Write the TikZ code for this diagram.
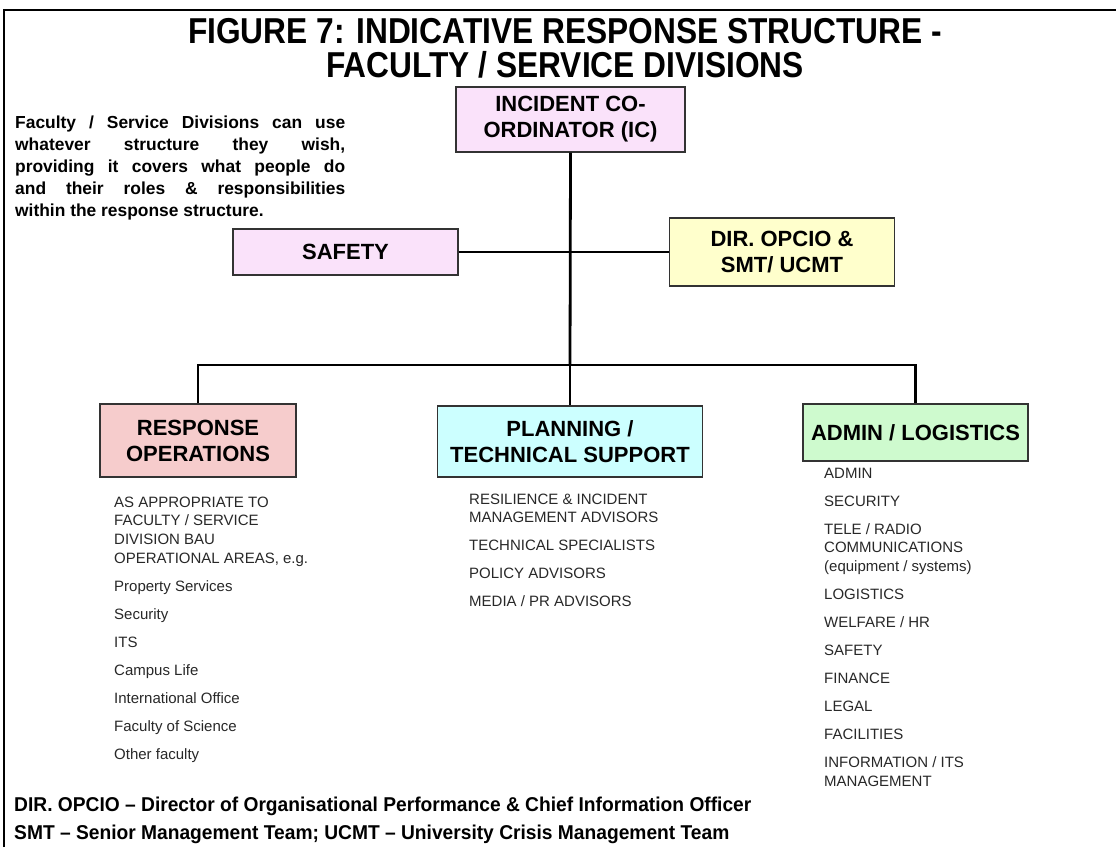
\documentclass[tikz,border=0pt]{standalone}
\usepackage{fontspec}
\setmainfont{Liberation Sans}
\newfontfamily\titlefont{Liberation Sans}[FakeStretch=0.88]
\newfontfamily\footfont{Liberation Sans}[FakeStretch=0.96]
\usetikzlibrary{positioning}

\definecolor{icpink}{RGB}{250,226,250}
\definecolor{diryellow}{RGB}{255,255,204}
\definecolor{respred}{RGB}{246,204,204}
\definecolor{plancyan}{RGB}{204,255,255}
\definecolor{admgreen}{RGB}{206,250,206}
\definecolor{boxline}{RGB}{51,51,51}
\definecolor{listgray}{RGB}{40,40,40}

\newcommand{\itemgap}{\\[9.3pt]}
\newcommand{\noteline}[1]{\makebox[330pt][s]{#1}}

\tikzset{
	rolebox/.style={draw=boxline, line width=1.2pt, align=center, inner sep=0pt,
		font=\bfseries\fontsize{22}{26}\selectfont},
	link/.style={line width=2.8pt},
	duties/.style={anchor=north west, align=left, inner sep=0pt, text=listgray,
		font=\fontsize{15}{18.7}\selectfont},
	footline/.style={anchor=west, inner sep=0pt, font=\footfont\bfseries\fontsize{20}{24}\selectfont}
}

\begin{document}
\begin{tikzpicture}[x=1pt, y=1pt]
	\useasboundingbox[fill=white] (0,0) rectangle (1116,-847);
	\draw[line width=2pt] (4,-847) -- (4,-10) -- (1116,-10);
	
	% Title and note
	\node[align=center, font=\titlefont\bfseries\fontsize{36}{34}\selectfont] (title) at (565,-48)
		{FIGURE 7: INDICATIVE RESPONSE STRUCTURE -\\FACULTY / SERVICE DIVISIONS};
	\node[anchor=north west, inner sep=0pt, align=left, font=\bfseries\fontsize{17.4}{22}\selectfont] (note) at (15,-116)
		{\noteline{Faculty / Service Divisions can use}\\
		 \noteline{whatever structure they wish,}\\
		 \noteline{providing it covers what people do}\\
		 \noteline{and their roles \& responsibilities}\\
		 within the response structure.};
	
	% Define the nodes (roles)
	\node[rolebox, fill=icpink, minimum width=229pt, minimum height=65pt] (ic) at (570.5,-119.5) {INCIDENT CO-\\ORDINATOR (IC)};
	\node[rolebox, fill=icpink, minimum width=225pt, minimum height=46pt] (safety) at (345.5,-252) {SAFETY};
	\node[rolebox, fill=diryellow, minimum width=225pt, minimum height=68pt] (dir) at (782,-252) {DIR. OPCIO \&\\SMT/ UCMT};
	\node[rolebox, fill=respred, minimum width=196pt, minimum height=73pt] (resp) at (198,-440.5) {RESPONSE\\OPERATIONS};
	\node[rolebox, fill=plancyan, minimum width=265pt, minimum height=71pt] (plan) at (570,-441.5) {PLANNING /\\TECHNICAL SUPPORT};
	\node[rolebox, fill=admgreen, minimum width=225pt, minimum height=57pt] (admin) at (915.5,-432.5) {ADMIN / LOGISTICS};
	\coordinate (bar) at (570,-365);
	
	% Define the connections
	\draw[link] (ic.south) -- (bar);
	\draw[link] (safety.east) -- (dir.west);
	\draw[link] (resp.north) -- (resp.north |- bar) -- (admin.north |- bar) -- (admin.north);
	\draw[link] (bar) -- (plan.north);
	
	% Duties under each box
	\node[duties] (respduties) at (114,-496.5)
		{AS APPROPRIATE TO\\FACULTY / SERVICE\\DIVISION BAU\\OPERATIONAL AREAS, e.g.\itemgap
		 Property Services\itemgap Security\itemgap ITS\itemgap Campus Life\itemgap
		 International Office\itemgap Faculty of Science\itemgap Other faculty};
	\node[duties] (planduties) at (469,-493.5)
		{RESILIENCE \& INCIDENT\\MANAGEMENT ADVISORS\itemgap TECHNICAL SPECIALISTS\itemgap
		 POLICY ADVISORS\itemgap MEDIA / PR ADVISORS};
	\node[duties] (adminduties) at (824,-467.5)
		{ADMIN\itemgap SECURITY\itemgap TELE / RADIO\\COMMUNICATIONS\\(equipment / systems)\itemgap
		 LOGISTICS\itemgap WELFARE / HR\itemgap SAFETY\itemgap FINANCE\itemgap LEGAL\itemgap
		 FACILITIES\itemgap INFORMATION / ITS\\MANAGEMENT};
	
	% Footnotes
	\node[footline] (fnopcio) at (14,-806) {DIR. OPCIO – Director of Organisational Performance \& Chief Information Officer};
	\node[footline] (fnsmt) at (14,-834) {SMT – Senior Management Team; UCMT – University Crisis Management Team};
\end{tikzpicture}
\end{document}
